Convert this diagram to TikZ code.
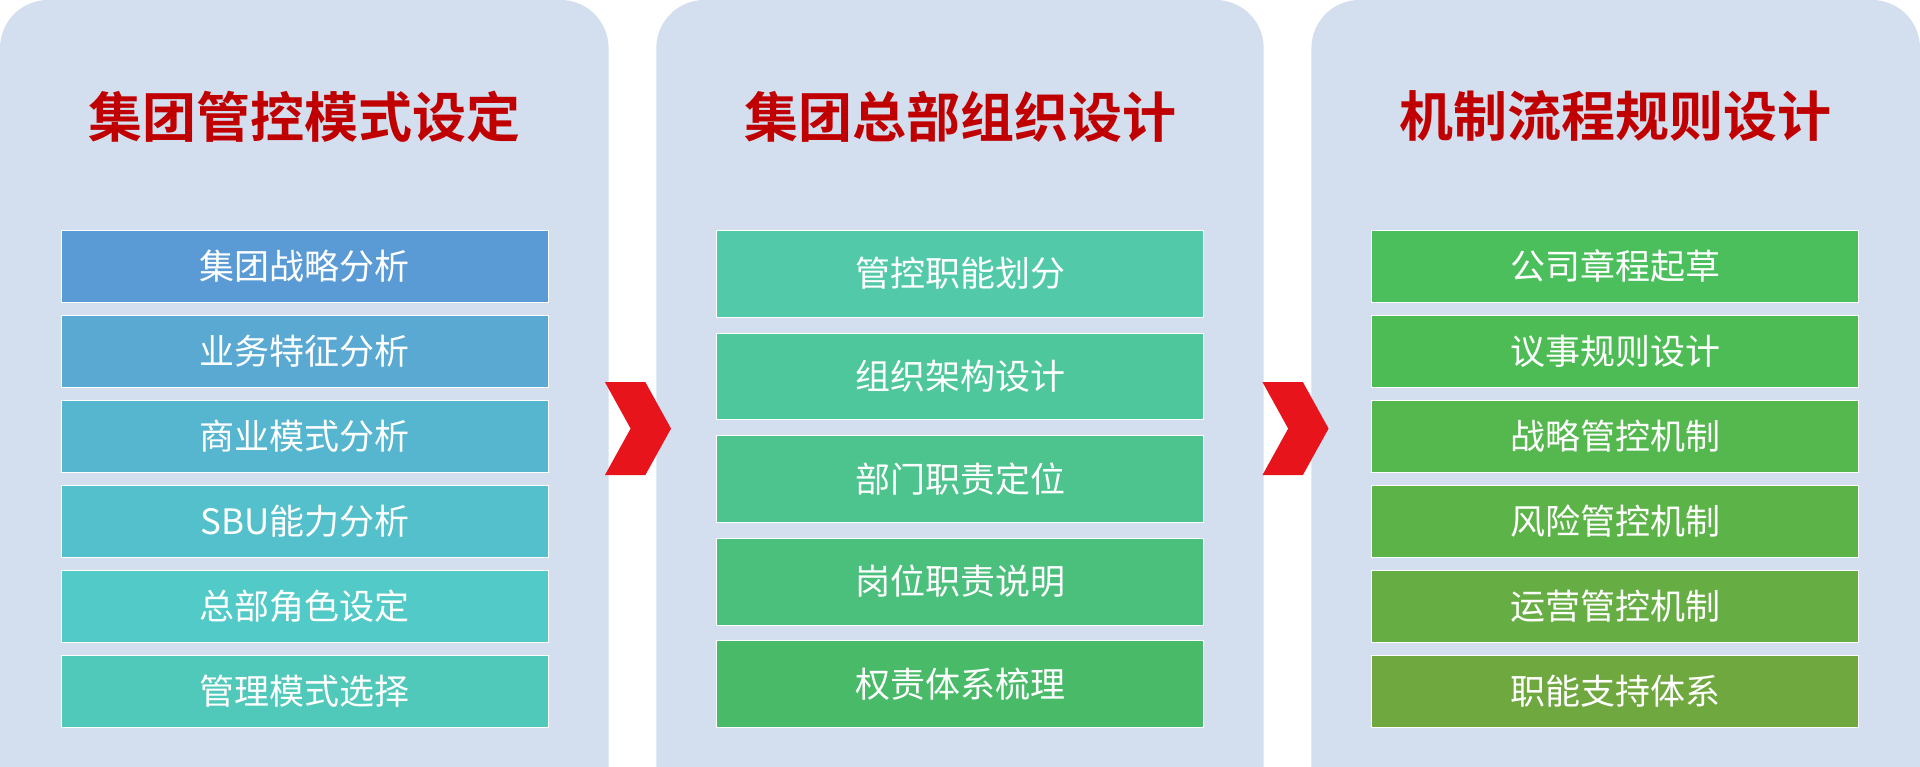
\documentclass[tikz,border=0pt]{standalone}
\usepackage{fontspec}
\newfontfamily\cjk{Noto Sans CJK SC}
\newfontfamily\cjkb{Noto Sans CJK SC Bold}
\definecolor{panelbg}{HTML}{D3DEEF}
\definecolor{ttl}{HTML}{C00000}
\definecolor{arr}{HTML}{E8141B}
\begin{document}
\begin{tikzpicture}[x=1.2245pt,y=-1.2245pt,
  panel/.style={fill=panelbg,rounded corners=48pt},
  ttlnode/.style={text=ttl,font=\cjkb\fontsize{54}{60}\selectfont},
  item/.style={draw=white,line width=0.6pt,minimum width=398*1.2245pt,text=white,font=\cjk\fontsize{35}{40}\selectfont,inner sep=0pt},
  chev/.style={fill=arr}]
\useasboundingbox (0,0) rectangle (1568,626);
\fill[panel] (0,0) rectangle (497,700);
\fill[panel] (536,0) rectangle (1032,700);
\fill[panel] (1071,0) rectangle (1568,700);
\node[ttlnode] (t1) at (248.5,95) {集团管控模式设定};
\node[ttlnode] (t2) at (784,95) {集团总部组织设计};
\node[ttlnode] (t3) at (1319.5,95) {机制流程规则设计};
\foreach \i/\c/\t in {0/5B9BD5/集团战略分析,1/59A9D2/业务特征分析,2/56B5CF/商业模式分析,3/54C0CB/SBU能力分析,4/52CBC8/总部角色设定,5/50C9BA/管理模式选择}{
  \definecolor{cc}{HTML}{\c}
  \node[item,fill=cc,minimum height=59*1.2245pt] (a\i) at (249,217.5+69.4*\i) {\t};}
\foreach \i/\c/\t in {0/52CAAA/管控职能划分,1/4FC79C/组织架构设计,2/4DC38D/部门职责定位,3/4BBF7C/岗位职责说明,4/49BB68/权责体系梳理}{
  \definecolor{cc}{HTML}{\c}
  \node[item,fill=cc,minimum height=71*1.2245pt] (b\i) at (784,223.5+83.8*\i) {\t};}
\foreach \i/\c/\t in {0/4ABF5C/公司章程起草,1/4DBC55/议事规则设计,2/54B84E/战略管控机制,3/5CB348/风险管控机制,4/66AE43/运营管控机制,5/70A840/职能支持体系}{
  \definecolor{cc}{HTML}{\c}
  \node[item,fill=cc,minimum height=59*1.2245pt] (c\i) at (1319,217.5+69.4*\i) {\t};}
\fill[chev] (494,312) -- (527,312) -- (548,350) -- (527,388) -- (494,388) -- (515,350) -- cycle;
\fill[chev] (1031,312) -- (1064,312) -- (1085,350) -- (1064,388) -- (1031,388) -- (1052,350) -- cycle;
\end{tikzpicture}
\end{document}
